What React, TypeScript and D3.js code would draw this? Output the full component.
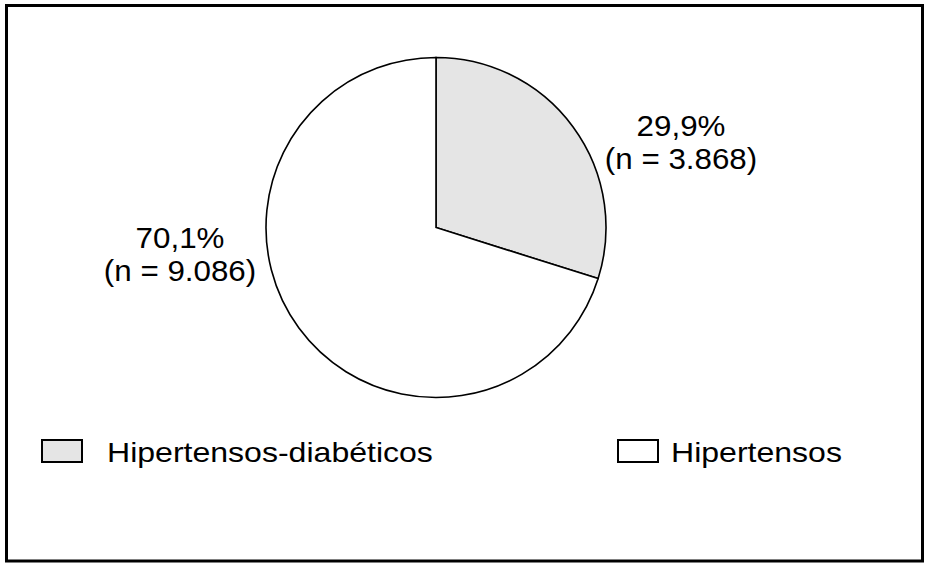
import React, { useEffect, useRef } from "react";
import * as d3 from "d3";

// data
const categories = ["Hipertensos-diabéticos", "Hipertensos"];
const counts = [3868, 9086];
const percentLabels = ["29,9%", "70,1%"];
const countLabels = ["(n = 3.868)", "(n = 9.086)"];
const fills = ["#e5e5e5", "#ffffff"];

const W = 935;
const H = 565;

export default function App() {
  const ref = useRef<SVGSVGElement | null>(null);

  useEffect(() => {
    document.body.style.margin = "0";
    const svg = d3.select(ref.current);
    svg.selectAll("*").remove();

    const font = "'Liberation Sans', Arial, Helvetica, sans-serif";

    // outer frame
    svg
      .append("rect")
      .attr("x", 6.5)
      .attr("y", 5.5)
      .attr("width", 916)
      .attr("height", 555.5)
      .attr("fill", "white")
      .attr("stroke", "black")
      .attr("stroke-width", 3);

    const cx = 436;
    const cy = 227.5;
    const r = 170;

    const data = categories.map((c, i) => ({
      name: c,
      value: counts[i],
      pct: percentLabels[i],
      n: countLabels[i],
      fill: fills[i],
    }));

    const pie = d3
      .pie<(typeof data)[number]>()
      .sort(null)
      .value((d) => d.value);
    const arc = d3.arc<d3.PieArcDatum<(typeof data)[number]>>().innerRadius(0).outerRadius(r);
    const arcs = pie(data);

    const g = svg.append("g").attr("transform", `translate(${cx},${cy})`);
    g.selectAll("path")
      .data(arcs)
      .join("path")
      .attr("d", arc)
      .attr("fill", (d) => d.data.fill)
      .attr("stroke", "black")
      .attr("stroke-width", 1.6)
      .attr("stroke-linejoin", "miter");

    // slice labels, placed outside the pie
    const labelPos = [
      { x: 681, y: 136 },
      { x: 180, y: 248 },
    ];
    const labels = svg
      .append("g")
      .attr("font-family", font)
      .attr("font-size", 29)
      .attr("fill", "black")
      .attr("text-anchor", "middle");
    arcs.forEach((d, i) => {
      const t = labels
        .append("g")
        .attr("transform", `translate(${labelPos[i].x},${labelPos[i].y}) scale(1.08,1)`);
      t.append("text").attr("x", 0).attr("y", 0).text(d.data.pct);
      t.append("text").attr("x", 0).attr("y", 33).text(d.data.n);
    });

    // legend
    const legendX = [42, 618];
    const legend = svg.append("g").attr("font-family", font).attr("font-size", 28);
    data.forEach((d, i) => {
      const lg = legend.append("g").attr("transform", `translate(${legendX[i]},440)`);
      lg.append("rect")
        .attr("x", 0)
        .attr("y", 0)
        .attr("width", 40)
        .attr("height", 22)
        .attr("fill", d.fill)
        .attr("stroke", "black")
        .attr("stroke-width", 2);
      lg.append("g")
        .attr("transform", `translate(${i === 0 ? 65 : 53},22) scale(1.145,1)`)
        .append("text")
        .attr("x", 0)
        .attr("y", 0)
        .attr("fill", "black")
        .text(d.name);
    });
  }, []);

  return (
    <svg
      ref={ref}
      width={W}
      height={H}
      style={{ position: "absolute", left: 0, top: 0, background: "white" }}
    />
  );
}
